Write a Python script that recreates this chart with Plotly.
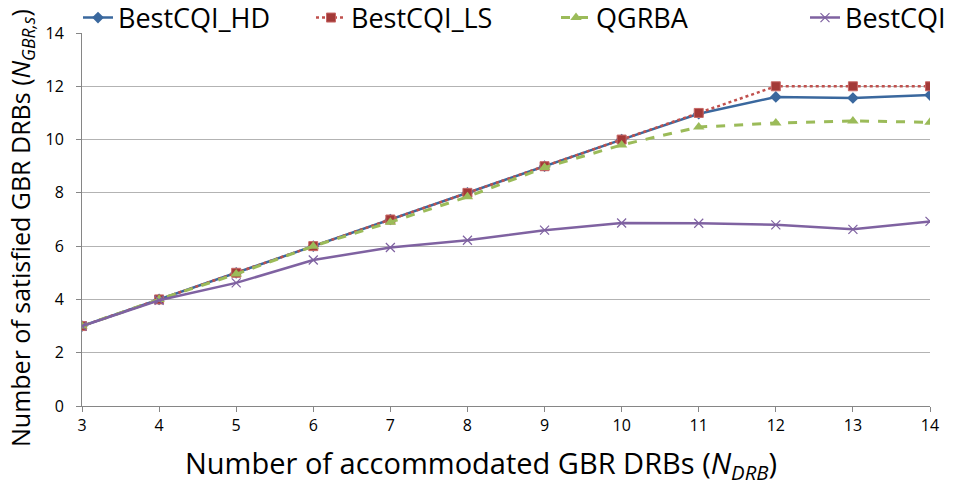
import plotly.graph_objects as go

x_vals = [3, 4, 5, 6, 7, 8, 9, 10, 11, 12, 13, 14]
hd = [3, 4, 5, 6, 7, 8, 9, 10, 10.97, 11.6, 11.56, 11.67]
ls = [3, 4, 5, 6, 7, 8, 9, 10, 11, 12, 12, 12]
qgrba = [3, 4, 4.95, 6, 6.9, 7.85, 8.95, 9.8, 10.47, 10.62, 10.7, 10.65]
bestcqi = [3, 3.97, 4.62, 5.48, 5.95, 6.22, 6.6, 6.87, 6.86, 6.8, 6.63, 6.93]
y_ticks = [0, 2, 4, 6, 8, 10, 12, 14]

x_title = "Number of accommodated GBR DRBs (<i>N<sub>DRB</sub></i>)"
y_title = "Number of satisfied GBR DRBs (<i>N<sub>GBR,s</sub></i>)"

font = "'Open Sans', sans-serif"

fig = go.Figure()
fig.add_trace(go.Scatter(x=x_vals, y=hd, name="BestCQI_HD", mode="lines+markers", legend="legend",
                         line=dict(color="#3A689E", width=2.5),
                         marker=dict(symbol="diamond", size=9, color="#3A689E")))
fig.add_trace(go.Scatter(x=x_vals, y=ls, name="BestCQI_LS", mode="lines+markers", legend="legend2",
                         line=dict(color="#C0504D", width=2.5, dash="dot"),
                         marker=dict(symbol="square", size=9, color="#A33A38",
                                     line=dict(color="#C86866", width=1))))
fig.add_trace(go.Scatter(x=x_vals, y=qgrba, name="QGRBA", mode="lines+markers", legend="legend3",
                         line=dict(color="#9BBB59", width=3, dash="dash"),
                         marker=dict(symbol="triangle-up", size=10, color="#9BBB59")))
fig.add_trace(go.Scatter(x=x_vals, y=bestcqi, name="BestCQI", mode="lines+markers", legend="legend4",
                         line=dict(color="#7F62A1", width=2.5),
                         marker=dict(symbol="x-thin", size=9, color="#7F62A1",
                                     line=dict(color="#7F62A1", width=1.2))))

def leg(xpix):
    return dict(orientation="h", xref="container", yref="container",
                x=xpix / 956, xanchor="left",
                y=1 - 18 / 488, yanchor="middle",
                font=dict(size=27, family=font), bgcolor="rgba(0,0,0,0)",
                borderwidth=0)

fig.update_layout(
    width=956, height=488,
    margin=dict(l=82, r=26, t=33, b=82, autoexpand=False),
    paper_bgcolor="white", plot_bgcolor="white",
    font=dict(family=font, color="#000000"),
    showlegend=True,
    legend=leg(78), legend2=leg(311), legend3=leg(556), legend4=leg(805),
    xaxis=dict(range=[3, 14], tickvals=x_vals, showgrid=False, showline=True,
               linecolor="#868686", linewidth=1, ticks="outside", ticklen=5,
               tickcolor="#868686", tickfont=dict(size=16, family=font), zeroline=False),
    yaxis=dict(range=[0, 14], tickvals=y_ticks, showgrid=True,
               gridcolor="#B3B3B3", gridwidth=1, showline=True, linecolor="#868686",
               linewidth=1, ticks="outside", ticklen=5, tickcolor="#868686",
               tickfont=dict(size=16, family=font), zeroline=False, ticklabelstandoff=9),
    annotations=[
        dict(text=x_title, xref="paper", yref="paper", x=(481 - 82) / 848,
             y=(406 - 464) / 373, xanchor="center", yanchor="middle", showarrow=False,
             font=dict(size=29, family=font, color="#000000")),
        dict(text=y_title, xref="paper", yref="paper", x=(21 - 82) / 848,
             y=(406 - 228) / 373, xanchor="center", yanchor="middle", showarrow=False,
             textangle=-90, font=dict(size=25, family=font, color="#000000")),
    ],
)

fig.write_html("out.html")
